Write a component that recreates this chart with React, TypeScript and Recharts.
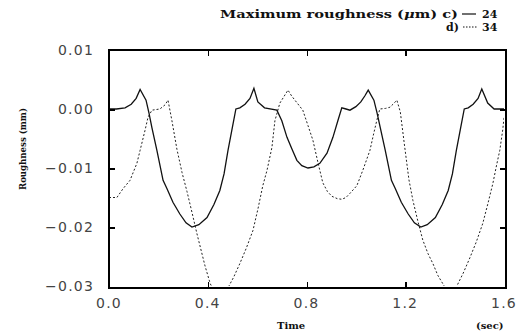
import React from 'react';
import { LineChart, Line, XAxis, YAxis } from 'recharts';

// Series c) maximum roughness 24 µm (solid)
const timeC = [
  0, 0.03, 0.065, 0.09, 0.11, 0.126, 0.15, 0.162, 0.174, 0.194, 0.219, 0.235, 0.259, 0.287, 0.312, 0.336,
  0.364, 0.397, 0.425, 0.449, 0.466, 0.482, 0.498, 0.514, 0.53, 0.551, 0.571, 0.587, 0.603, 0.63, 0.68,
  0.7, 0.721, 0.741, 0.761, 0.781, 0.806, 0.83, 0.854, 0.883, 0.907, 0.927, 0.943, 0.96, 0.976, 1.0, 1.02,
  1.036, 1.05, 1.073, 1.086, 1.099, 1.119, 1.144, 1.16, 1.184, 1.212, 1.237, 1.263, 1.289, 1.322, 1.35,
  1.374, 1.391, 1.407, 1.423, 1.439, 1.455, 1.475, 1.495, 1.51, 1.534, 1.56, 1.6,
];
const roughC = [
  0, 0, 0.0002, 0.0008, 0.0018, 0.0033, 0.0015, -0.0007, -0.0032, -0.007, -0.0121, -0.0135, -0.0158, -0.0178, -0.0193, -0.02,
  -0.0196, -0.0184, -0.0162, -0.0138, -0.011, -0.007, -0.0035, 0, 0.0002, 0.0008, 0.0018, 0.0035, 0.0012, 0.0002, -0.0002,
  -0.002, -0.0048, -0.0068, -0.0087, -0.0096, -0.01, -0.0098, -0.0092, -0.0075, -0.0048, -0.002, 0.0002, 0, -0.0002, 0.0004, 0.0012,
  0.0022, 0.0032, 0.0015, -0.0007, -0.0032, -0.007, -0.0121, -0.0135, -0.0158, -0.0178, -0.0193, -0.02, -0.0196, -0.0184, -0.0162,
  -0.0138, -0.011, -0.007, -0.0035, 0, 0.0002, 0.0008, 0.0018, 0.0034, 0.001, 0, 0,
];

// Series d) maximum roughness 34 µm (dotted)
const timeD = [
  0, 0.032, 0.057, 0.085, 0.113, 0.126, 0.146, 0.158, 0.174, 0.206, 0.227, 0.239, 0.255, 0.275, 0.296, 0.316,
  0.336, 0.356, 0.389, 0.41, 0.43, 0.455, 0.47, 0.482, 0.505, 0.53, 0.556, 0.583, 0.603, 0.623, 0.64, 0.66,
  0.672, 0.692, 0.71, 0.725, 0.74, 0.753, 0.785, 0.806, 0.826, 0.846, 0.866, 0.885, 0.903, 0.925, 0.943, 0.96,
  0.976, 1.004, 1.028, 1.057, 1.072, 1.085, 1.097, 1.12, 1.138, 1.155, 1.166, 1.18, 1.198, 1.215, 1.231, 1.251,
  1.271, 1.292, 1.312, 1.332, 1.352, 1.365, 1.38, 1.395, 1.409, 1.435, 1.462, 1.488, 1.514, 1.535, 1.555, 1.57,
  1.583, 1.595, 1.6,
];
const roughD = [
  -0.015, -0.015, -0.0135, -0.0121, -0.0092, -0.007, -0.0036, -0.0014, -0.0002, 0, 0.0007, 0.0015, -0.002, -0.0068, -0.0108, -0.014,
  -0.0175, -0.0211, -0.0266, -0.0296, -0.0312, -0.032, -0.0316, -0.0303, -0.0285, -0.0262, -0.0236, -0.0206, -0.017, -0.013, -0.0104, -0.0065,
  -0.002, 0.001, 0.0022, 0.0032, 0.0022, 0.0015, -0.0002, -0.0028, -0.0053, -0.009, -0.0125, -0.014, -0.0148, -0.0152, -0.0153, -0.015,
  -0.0143, -0.013, -0.0104, -0.007, -0.0042, -0.0019, 0, 0.0001, 0.0003, 0.001, 0.0015, -0.0005, -0.0065, -0.012, -0.0155, -0.019,
  -0.0222, -0.0245, -0.0262, -0.0282, -0.0296, -0.0305, -0.031, -0.0306, -0.03, -0.0278, -0.0252, -0.0225, -0.0194, -0.016, -0.0126, -0.0095,
  -0.007, -0.0035, -0.0015,
];

const xTicks = [0, 0.4, 0.8, 1.2, 1.6];
const yTicks = [-0.03, -0.02, -0.01, 0, 0.01];
const xDomain: [number, number] = [0, 1.6];
const yDomain: [number, number] = [-0.03, 0.01];

const dataC = timeC.map((t, i) => ({ t, v: roughC[i] }));
const dataD = timeD.map((t, i) => ({ t, v: roughD[i] }));

const fmtY = (v: number) => v.toFixed(2).replace('-', '\u2212');
const fmtX = (v: number) => v.toFixed(1);

const tickFont = { fontFamily: 'DejaVu Sans', fontSize: 14, fill: '#444', letterSpacing: 1.2 };
const serif = { fontFamily: 'DejaVu Serif', fontWeight: 'bold' as const, fontSize: 11, fill: '#111' };

// chart geometry
const W = 522;
const H = 336;
const MARGIN = { top: 50, right: 18, bottom: 20, left: 49 };
const Y_AXIS_W = 60;
const X_AXIS_H = 30;
const PLOT = {
  x: MARGIN.left + Y_AXIS_W,
  y: MARGIN.top,
  w: W - MARGIN.left - Y_AXIS_W - MARGIN.right,
  h: H - MARGIN.top - MARGIN.bottom - X_AXIS_H,
};
const TICK_LEN = 5;
const sx = (v: number) => ((v - xDomain[0]) / (xDomain[1] - xDomain[0])) * PLOT.w;
const sy = (v: number) => PLOT.h - ((v - yDomain[0]) / (yDomain[1] - yDomain[0])) * PLOT.h;

function TickDiv({ left, top, width, height }: { left: number; top: number; width: number; height: number }) {
  return (
    <div style={{ position: 'absolute', left, top, width, height, background: '#000' }} />
  );
}

function FrameBox() {
  const inX = xTicks.slice(1, -1);
  const inY = yTicks.slice(1, -1);
  return (
    <div
      style={{
        position: 'absolute',
        left: PLOT.x - 1,
        top: PLOT.y - 1,
        width: PLOT.w,
        height: PLOT.h,
        border: '2px solid #000',
        boxSizing: 'content-box',
        pointerEvents: 'none',
        zIndex: 3,
      }}
    >
      {inX.map((v) => (
        <TickDiv key={`b${v}`} left={sx(v) - 1} top={PLOT.h - TICK_LEN} width={1.5} height={TICK_LEN} />
      ))}
      {inX.map((v) => (
        <TickDiv key={`t${v}`} left={sx(v) - 1} top={0} width={1.5} height={TICK_LEN} />
      ))}
      {inY.map((v) => (
        <TickDiv key={`l${v}`} left={0} top={sy(v) - 1} width={TICK_LEN} height={1.5} />
      ))}
      {inY.map((v) => (
        <TickDiv key={`r${v}`} left={PLOT.w - TICK_LEN} top={sy(v) - 1} width={TICK_LEN} height={1.5} />
      ))}
    </div>
  );
}

export default function App() {
  return (
    <div style={{ position: 'absolute', left: 0, top: 0, width: W, height: H, background: '#fff' }}>
      <LineChart width={W} height={H} margin={MARGIN}>
        <XAxis
          dataKey="t"
          type="number"
          domain={xDomain}
          ticks={xTicks}
          tickFormatter={fmtX}
          height={X_AXIS_H}
          tickSize={0}
          tickMargin={12}
          axisLine={false}
          tickLine={false}
          tick={tickFont}
          allowDataOverflow
        />
        <YAxis
          type="number"
          domain={yDomain}
          ticks={yTicks}
          tickFormatter={fmtY}
          width={Y_AXIS_W}
          tickSize={0}
          tickMargin={15}
          axisLine={false}
          tickLine={false}
          tick={tickFont}
          allowDataOverflow
        />
        <Line
          data={dataD}
          dataKey="v"
          type="linear"
          stroke="#222"
          strokeWidth={1}
          strokeDasharray="2 2"
          dot={false}
          isAnimationActive={false}
        />
        <Line
          data={dataC}
          dataKey="v"
          type="linear"
          stroke="#111"
          strokeWidth={1.3}
          dot={false}
          isAnimationActive={false}
        />
      </LineChart>
      <FrameBox />
      <svg
        width={W}
        height={H}
        style={{ position: 'absolute', left: 0, top: 0, pointerEvents: 'none', zIndex: 2 }}
      >
        <text x={220} y={18} {...serif} textLength={238} lengthAdjust="spacingAndGlyphs">
          Maximum roughness (<tspan fontStyle="italic">μ</tspan>m) c)
        </text>
        <line x1={462} x2={476} y1={14} y2={14} stroke="#111" strokeWidth={1.2} />
        <text x={482} y={18} {...serif}>24</text>
        <text x={446} y={31} {...serif}>d)</text>
        <line x1={463} x2={477} y1={27} y2={27} stroke="#111" strokeWidth={1} strokeDasharray="1.5 1.5" />
        <text x={482} y={31} {...serif}>34</text>
        <text x={277} y={329} {...serif} fontSize={10}>Time</text>
        <text x={476} y={329} {...serif} fontSize={10}>(sec)</text>
        <text
          transform="translate(26,149) rotate(-90)"
          textAnchor="middle"
          {...serif}
          fontSize={10}
          textLength={82}
          lengthAdjust="spacingAndGlyphs"
        >
          Roughness (mm)
        </text>
      </svg>
    </div>
  );
}
